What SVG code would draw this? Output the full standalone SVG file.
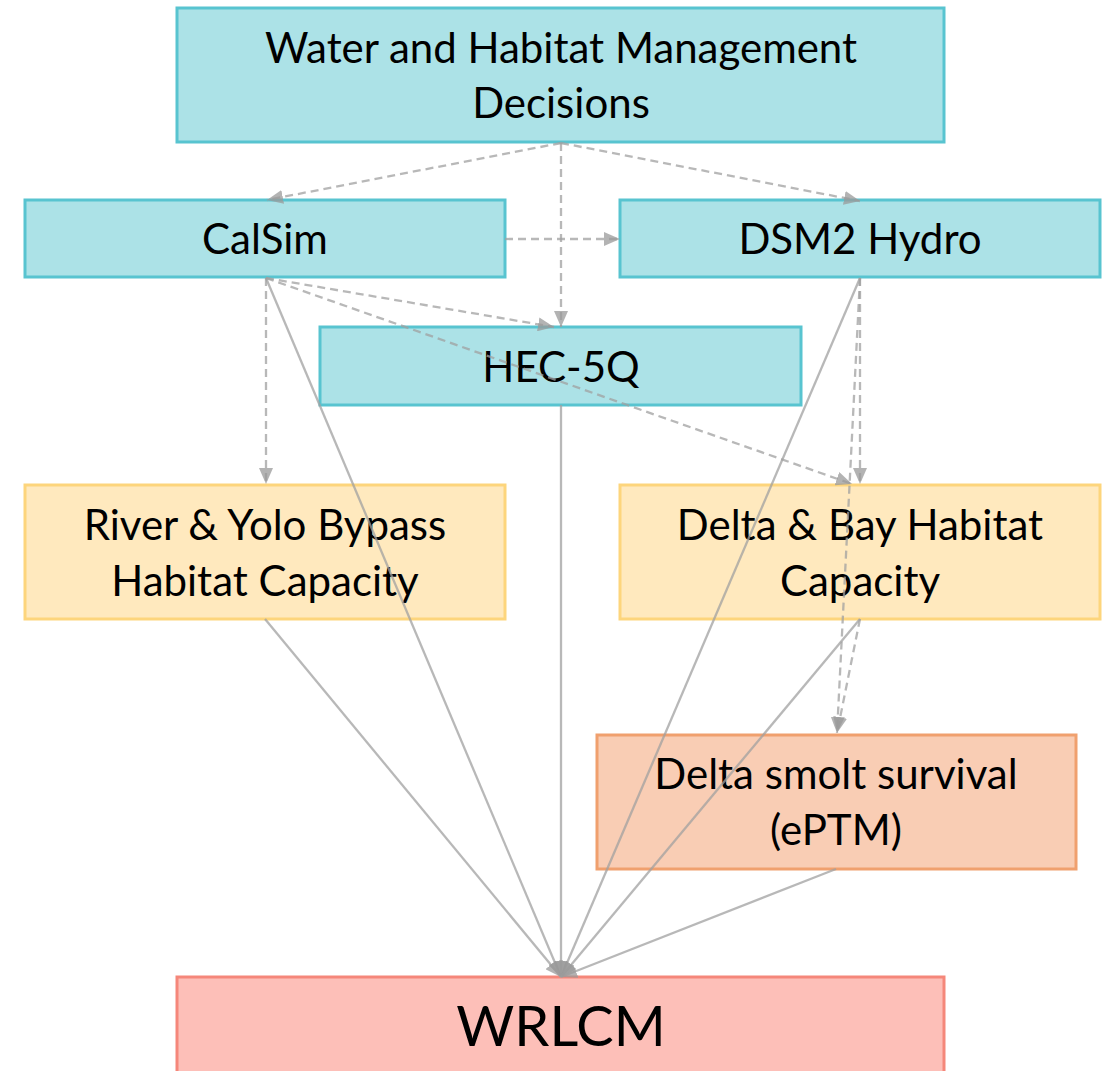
<svg xmlns="http://www.w3.org/2000/svg" width="1107" height="1071" viewBox="0 0 1107 1071">
<style>
.t{font-family:Lato,"Open Sans","Liberation Sans",sans-serif;font-size:42px;fill:#000;text-anchor:middle}
.blue{fill:#ace2e7;stroke:#58c4d0;stroke-width:3}
.yel{fill:#ffe9be;stroke:#fdd57c;stroke-width:3}
.org{fill:#f9cdb4;stroke:#f0a06e;stroke-width:3}
.red{fill:#fdbfb8;stroke:#f5877a;stroke-width:3}
.c{fill:none;stroke:#a0a0a0;stroke-opacity:0.75;stroke-width:2.3}
.d{stroke-dasharray:8 5}
</style>
<defs>
<marker id="ah" viewBox="0 0 16 14" refX="16" refY="7" markerWidth="16" markerHeight="14" markerUnits="userSpaceOnUse" orient="auto">
<path d="M0,0 L16,7 L0,14 z" fill="#999" fill-opacity="0.75"/>
</marker>
</defs>
<g id="node-top"><rect class="blue" x="177" y="8" width="767" height="134"/>
<text class="t" x="561" y="63">Water and Habitat Management</text>
<text class="t" x="561" y="118">Decisions</text></g>
<g id="node-calsim"><rect class="blue" x="25" y="200" width="480" height="77"/>
<text class="t" x="265" y="254">CalSim</text></g>
<g id="node-dsm2"><rect class="blue" x="620" y="200" width="480" height="77"/>
<text class="t" x="860" y="254">DSM2 Hydro</text></g>
<g id="node-hec"><rect class="blue" x="320" y="327" width="481" height="78"/>
<text class="t" x="561" y="382">HEC-5Q</text></g>
<g id="node-river"><rect class="yel" x="25" y="485" width="480" height="134"/>
<text class="t" x="265" y="540">River &amp; Yolo Bypass</text>
<text class="t" x="265" y="596">Habitat Capacity</text></g>
<g id="node-bay"><rect class="yel" x="620" y="485" width="480" height="134"/>
<text class="t" x="860" y="540">Delta &amp; Bay Habitat</text>
<text class="t" x="860" y="596">Capacity</text></g>
<g id="node-smolt"><rect class="org" x="597" y="735" width="479" height="134"/>
<text class="t" x="836" y="789">Delta smolt survival</text>
<text class="t" x="836" y="845">(ePTM)</text></g>
<g id="node-wrlcm"><rect class="red" x="177" y="977" width="767" height="100"/>
<text class="t" x="561" y="1046" style="font-size:56px">WRLCM</text></g>
<g id="connectors">
<line class="c d" x1="561" y1="143" x2="267" y2="200" marker-end="url(#ah)"/>
<line class="c d" x1="561" y1="143" x2="860" y2="201" marker-end="url(#ah)"/>
<line class="c d" x1="561" y1="143" x2="561" y2="327" marker-end="url(#ah)"/>
<line class="c d" x1="505" y1="239" x2="620" y2="239" marker-end="url(#ah)"/>
<line class="c d" x1="266" y1="278" x2="266" y2="484" marker-end="url(#ah)"/>
<line class="c d" x1="266" y1="278" x2="554" y2="327" marker-end="url(#ah)"/>
<line class="c d" x1="266" y1="278" x2="852" y2="484" marker-end="url(#ah)"/>
<line class="c" x1="266" y1="278" x2="561" y2="977" marker-end="url(#ah)"/>
<line class="c d" x1="860" y1="278" x2="860" y2="484" marker-end="url(#ah)"/>
<line class="c d" x1="860" y1="278" x2="837" y2="733" marker-end="url(#ah)"/>
<line class="c" x1="860" y1="278" x2="561" y2="977" marker-end="url(#ah)"/>
<line class="c" x1="561" y1="405" x2="561" y2="977" marker-end="url(#ah)"/>
<line class="c" x1="265" y1="619" x2="561" y2="977" marker-end="url(#ah)"/>
<line class="c d" x1="860" y1="619" x2="837" y2="733" marker-end="url(#ah)"/>
<line class="c" x1="860" y1="619" x2="561" y2="977" marker-end="url(#ah)"/>
<line class="c" x1="836" y1="869" x2="561" y2="977" marker-end="url(#ah)"/>
</g>
</svg>
